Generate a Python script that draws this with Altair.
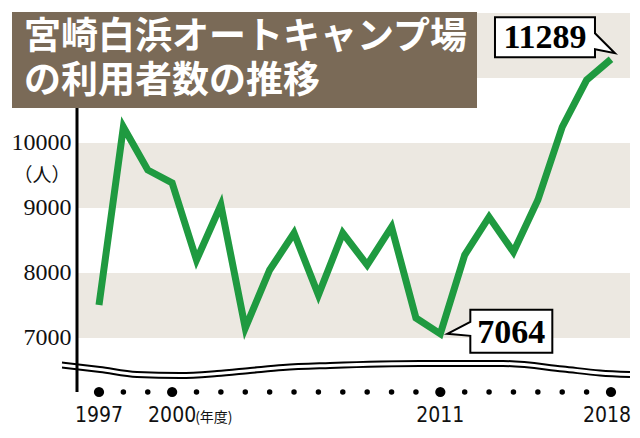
import altair as alt
import pandas as pd

# ---- data ----
years = list(range(1997, 2019))
visitors = [7508, 10246, 9585, 9385, 8200, 9046, 7154, 8046, 8615, 7662, 8615,
            8123, 8708, 7308, 7064, 8277, 8862, 8323, 9123, 10246, 10969, 11289]
band_lo = [7000, 9000, 11000]
band_hi = [8000, 10000, 12000]
tick_values = [7000, 8000, 9000, 10000]
label_years = [1997, 2000, 2011, 2018]
title_lines = ["宮崎白浜オートキャンプ場", "の利用者数の推移"]
unit_text = "（人）"
fy_text = "(年度)"
callout_low = (2011, 7064, "7064")
callout_high = (2018, 11289, "11289")

# ---- layout ----
W, H = 553, 379
X0, X1 = 1996.098, 2018.78
Y0, Y1 = 6169.2, 12000
PX_PER_YEAR = W / (X1 - X0)
PX_PER_V = H / (Y1 - Y0)
LEFT, TOP = 77, 13  # page position of plot area


def px2yr(px):
    return X0 + (px - LEFT) / PX_PER_YEAR


def py2v(py):
    return Y1 - (py - TOP) / PX_PER_V


xs = alt.Scale(domain=[X0, X1], nice=False, zero=False)
ys = alt.Scale(domain=[Y0, Y1], nice=False, zero=False)

GREEN = "#1f9a40"
BAND = "#ece8e1"
BROWN = "#7a6a57"
NARROW = "DejaVu Sans Condensed, Roboto, sans-serif"

band_df = pd.DataFrame({"lo": band_lo, "hi": band_hi,
                        "x0": [X0] * 3, "x1": [X1] * 3})
bands = alt.Chart(band_df).mark_rect(color=BAND).encode(
    x=alt.X("x0:Q", scale=xs, axis=None),
    x2="x1:Q",
    y=alt.Y("lo:Q", scale=ys, axis=alt.Axis(
        values=tick_values, format="d", domain=False, ticks=False, grid=False,
        labelFont="Liberation Serif", labelFontSize=24, labelColor="#111111",
        labelPadding=6, title=None)),
    y2="hi:Q",
)

one = pd.DataFrame({"a": [0]})

title_box = alt.Chart(one).mark_rect(color=BROWN).encode(
    x=alt.value(12 - LEFT), x2=alt.value(477 - LEFT),
    y=alt.value(12 - TOP), y2=alt.value(108 - TOP),
)


def title_line(text, py):
    return alt.Chart(pd.DataFrame({"t": [text]})).mark_text(
        align="left", baseline="middle", font="Noto Sans CJK JP", fontSize=37,
        fontWeight="bold", color="white",
    ).encode(x=alt.value(24 - LEFT), y=alt.value(py - TOP), text="t:N")


title_txt = title_line(title_lines[0], 38) + title_line(title_lines[1], 82)

unit = alt.Chart(pd.DataFrame({"t": [unit_text]})).mark_text(
    align="center", baseline="middle", font="Noto Sans CJK JP", fontSize=19,
    color="#111111",
).encode(x=alt.value(42 - LEFT), y=alt.value(176 - TOP), text="t:N")

axis_rule = alt.Chart(pd.DataFrame({"x": [X0], "y": [py2v(108)], "y2": [Y0]})).mark_rule(
    strokeWidth=3, color="black").encode(
    x=alt.X("x:Q", scale=xs), y=alt.Y("y:Q", scale=ys), y2="y2:Q")

# break wave decoration
wave_px = [62, 100, 137, 180, 217, 250, 283, 330, 420, 503, 563, 600, 630]
wave_py = [362.5, 367, 372, 373, 371, 368, 365, 363, 361, 361, 366.5, 370.5, 372]
rows = []
for k, off in enumerate([0, 5]):
    for i, (a, b) in enumerate(zip(wave_px, wave_py)):
        rows.append({"x": px2yr(a), "y": py2v(b + off), "g": k, "o": i})
wave_df = pd.DataFrame(rows)
wave = alt.Chart(wave_df).mark_line(
    interpolate="monotone", strokeWidth=2, color="black").encode(
    x=alt.X("x:Q", scale=xs), y=alt.Y("y:Q", scale=ys),
    detail="g:N", order="o:Q")

dot_df = pd.DataFrame({"year": years,
                       "big": [y in label_years for y in years]})
dots = alt.Chart(dot_df).mark_circle(color="black", opacity=1).encode(
    x=alt.X("year:Q", scale=xs),
    y=alt.value(392 - TOP),
    size=alt.Size("big:N", scale=alt.Scale(domain=[False, True], range=[30, 105]),
                  legend=None),
)


def year_label_layer(yrs, dx):
    df = pd.DataFrame({"year": yrs, "t": [str(y) for y in yrs]})
    return alt.Chart(df).mark_text(
        baseline="middle", align="center", font=NARROW, dx=dx,
        fontSize=21, color="#111111").encode(
        x=alt.X("year:Q", scale=xs), y=alt.value(416 - TOP), text="t:N")


year_labels = year_label_layer(label_years[:-1], 0) + year_label_layer(label_years[-1:], -4)

fy = alt.Chart(pd.DataFrame({"year": [2000], "t": [fy_text]})).mark_text(
    align="left", baseline="middle", font="Noto Sans CJK JP", fontSize=14,
    dx=23, color="#111111").encode(
    x=alt.X("year:Q", scale=xs), y=alt.value(418 - TOP), text="t:N")

line_df = pd.DataFrame({"year": years, "v": visitors})
line = alt.Chart(line_df).mark_line(
    color=GREEN, strokeWidth=7, strokeJoin="miter", strokeMiterLimit=4).encode(
    x=alt.X("year:Q", scale=xs), y=alt.Y("v:Q", scale=ys))

low_path = "M7,0 L30,-12 L30,-24 L112,-24 L112,19 L30,19 L30,2 Z"
high_path = "M4,-6 L-16,-26 L-16,-42 L-116,-42 L-116,-2 L-16,-2 L-16,-10 Z"


def callout(info, path, dx, dy):
    df = pd.DataFrame({"year": [info[0]], "v": [info[1]], "t": [info[2]]})
    shape = alt.Chart(df).mark_point(
        shape=path, size=4, filled=True, fill="white", stroke="black",
        strokeWidth=2, opacity=1, fillOpacity=1, strokeOpacity=1).encode(
        x=alt.X("year:Q", scale=xs), y=alt.Y("v:Q", scale=ys))
    txt = alt.Chart(df).mark_text(
        font="Liberation Serif", fontSize=34, fontWeight="bold", color="black",
        align="center", baseline="middle", dx=dx, dy=dy).encode(
        x=alt.X("year:Q", scale=xs), y=alt.Y("v:Q", scale=ys), text="t:N")
    return shape + txt


chart = alt.layer(
    bands, title_box, title_txt, unit, axis_rule, wave, dots, year_labels, fy,
    line, callout(callout_low, low_path, 71, -1), callout(callout_high, high_path, -66, -21),
).properties(
    width=W, height=H, autosize="none",
    padding={"left": LEFT - 8, "top": TOP - 8, "right": 2, "bottom": 37},
    background="white",
).configure_view(stroke=None)

chart.save("out.html", embed_options={"renderer": "svg", "actions": False})
